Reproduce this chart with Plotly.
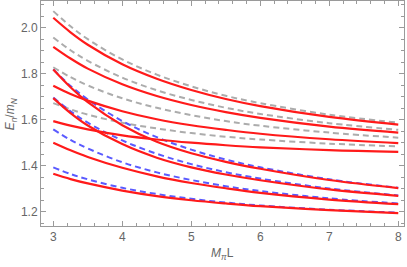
import plotly.graph_objects as go

# M_pi L sample points
x_vals = [3, 3.25, 3.5, 4, 4.5, 5, 5.5, 6, 7, 8]

# gray dashed (upper free levels)
gray_1 = [1.672, 1.645, 1.622, 1.587, 1.562, 1.542, 1.526, 1.514, 1.496, 1.484]
gray_2 = [1.828, 1.785, 1.749, 1.693, 1.652, 1.620, 1.594, 1.574, 1.544, 1.522]
gray_3 = [1.957, 1.902, 1.856, 1.783, 1.728, 1.686, 1.652, 1.625, 1.585, 1.556]
gray_4 = [2.072, 2.006, 1.950, 1.862, 1.796, 1.745, 1.704, 1.672, 1.622, 1.587]

# blue dashed (lower free levels)
blue_1 = [1.393, 1.364, 1.341, 1.304, 1.277, 1.256, 1.240, 1.227, 1.209, 1.196]
blue_2 = [1.558, 1.512, 1.475, 1.415, 1.371, 1.338, 1.311, 1.290, 1.258, 1.236]
blue_3 = [1.696, 1.637, 1.587, 1.510, 1.452, 1.407, 1.372, 1.344, 1.301, 1.271]
blue_4 = [1.819, 1.747, 1.688, 1.594, 1.524, 1.470, 1.427, 1.393, 1.341, 1.304]

# red solid (interacting levels)
red_u1 = [1.594, 1.574, 1.558, 1.532, 1.514, 1.500, 1.489, 1.480, 1.468, 1.460]
red_u2 = [1.748, 1.712, 1.683, 1.637, 1.602, 1.576, 1.556, 1.539, 1.515, 1.498]
red_u3 = [1.917, 1.866, 1.822, 1.754, 1.703, 1.664, 1.633, 1.608, 1.570, 1.544]
red_u4 = [2.043, 1.980, 1.926, 1.841, 1.778, 1.729, 1.690, 1.659, 1.612, 1.579]
red_l1 = [1.365, 1.342, 1.323, 1.292, 1.268, 1.250, 1.236, 1.224, 1.207, 1.194]
red_l2 = [1.500, 1.467, 1.438, 1.391, 1.354, 1.325, 1.302, 1.282, 1.253, 1.233]
red_l3 = [1.694, 1.629, 1.575, 1.494, 1.435, 1.393, 1.362, 1.337, 1.297, 1.269]
red_l4 = [1.818, 1.741, 1.676, 1.576, 1.504, 1.454, 1.417, 1.387, 1.338, 1.303]

x_ticks = [3, 4, 5, 6, 7, 8]
y_ticks = [1.2, 1.4, 1.6, 1.8, 2.0]
y_tick_text = ["1.2", "1.4", "1.6", "1.8", "2.0"]

GRAY = "#acacac"
BLUE = "#5a5aff"
RED = "#ff1a1a"
FRAME = "#9a9a9a"
TXT = "#666666"
FONT = "Liberation Sans, Arial, sans-serif"

fig = go.Figure()
for ys in [gray_1, gray_2, gray_3, gray_4]:
    fig.add_trace(go.Scatter(x=x_vals, y=ys, mode="lines", line_shape="spline",
                             line=dict(color=GRAY, width=2, dash="6px,4px"),
                             hoverinfo="skip", showlegend=False))
for ys in [blue_1, blue_2, blue_3, blue_4]:
    fig.add_trace(go.Scatter(x=x_vals, y=ys, mode="lines", line_shape="spline",
                             line=dict(color=BLUE, width=2, dash="6px,4px"),
                             hoverinfo="skip", showlegend=False))
for ys in [red_u1, red_u2, red_u3, red_u4, red_l1, red_l2, red_l3, red_l4]:
    fig.add_trace(go.Scatter(x=x_vals, y=ys, mode="lines", line_shape="spline",
                             line=dict(color=RED, width=2.2),
                             hoverinfo="skip", showlegend=False))

axis_common = dict(showgrid=False, zeroline=False, showline=True, linecolor=FRAME,
                   linewidth=1, mirror="allticks", ticks="inside", tickcolor=FRAME,
                   ticklen=5, tickwidth=1, automargin=False, ticklabeloverflow="allow",
                   tickfont=dict(family=FONT, size=12, color=TXT))

fig.update_layout(
    width=407, height=267,
    margin=dict(l=41, r=3, t=1, b=41, autoexpand=False),
    paper_bgcolor="white", plot_bgcolor="white",
    hovermode=False,
    xaxis=dict(range=[2.822, 8.083], tickvals=x_ticks,
               minor=dict(dtick=0.2, tick0=3, ticks="inside", ticklen=3, tickcolor=FRAME),
               **axis_common),
    yaxis=dict(range=[1.138, 2.116], tickvals=y_ticks, ticktext=y_tick_text,
               minor=dict(dtick=0.05, tick0=1.2, ticks="inside", ticklen=3, tickcolor=FRAME),
               **axis_common),
    annotations=[
        dict(text="<i>M</i><sub><i>π</i></sub>L", xref="paper", yref="paper",
             x=0.5, y=-0.125, xanchor="center", yanchor="middle", showarrow=False,
             font=dict(family=FONT, size=12, color=TXT)),
        dict(text="<i>E</i><sub><i>n</i></sub>/<i>m</i><sub><i>N</i></sub>", xref="paper", yref="paper",
             x=-0.083, y=0.5, xanchor="center", yanchor="middle", textangle=-90, showarrow=False,
             font=dict(family=FONT, size=12, color=TXT)),
    ],
)

fig.write_html("out.html", config={"displayModeBar": False},
               post_script="document.body.style.margin='0px';document.body.style.padding='0px';")
